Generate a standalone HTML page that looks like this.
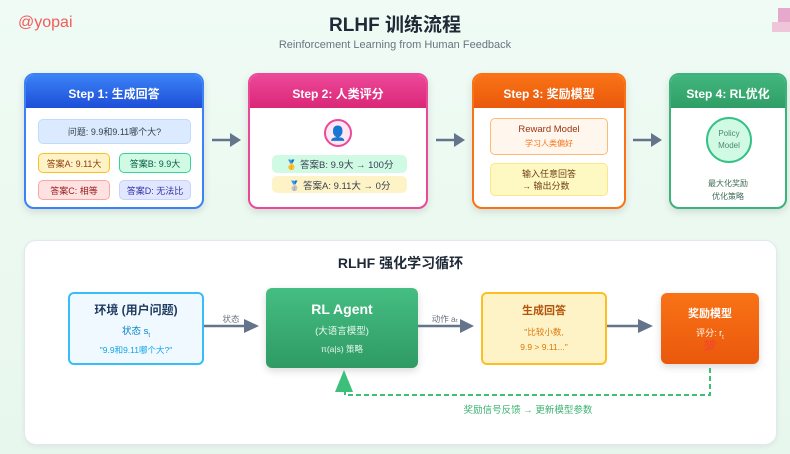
<!DOCTYPE html>
<html><head><meta charset="utf-8"><style>
*{margin:0;padding:0;box-sizing:border-box}
body{width:790px;height:454px;overflow:hidden;background:linear-gradient(180deg,#effbf4,#e8f7ee);font-family:"Liberation Sans","Noto Sans CJK SC",sans-serif;position:relative}
.a{position:absolute}
.c{display:flex;align-items:center;justify-content:center;text-align:center}
.card{position:absolute;background:#fff;border-radius:10px;border:2px solid;overflow:hidden;box-shadow:0 3px 8px rgba(0,0,0,.12)}
.hd{height:33px;color:#fff;font-weight:bold;font-size:12px;display:flex;align-items:center;justify-content:center;padding-top:4px}
.pill{position:absolute;border-radius:5px;border:1px solid;font-size:9px;display:flex;align-items:center;justify-content:center}
</style></head><body>
<div class="a" style="left:18px;top:14px;color:#f25a5a;font-size:16px">@yopai</div>
<div class="a" style="left:0;width:790px;top:10px;text-align:center;font-size:19px;font-weight:bold;color:#1f2937">RLHF 训练流程</div>
<div class="a" style="left:0;width:790px;top:39px;text-align:center;font-size:11px;color:#6b7280">Reinforcement Learning from Human Feedback</div>
<div class="a" style="left:778px;top:8px;width:12px;height:16px;background:#e7a9cb"></div>
<div class="a" style="left:772px;top:22px;width:18px;height:10px;background:#efc5da"></div>

<div class="card" style="left:24px;top:73px;width:180px;height:136px;border-color:#3b82f6">
<div class="hd" style="background:linear-gradient(#3b82f6,#1d4ed8)">Step 1: 生成回答</div>
<div class="pill" style="left:12px;top:44px;width:153px;height:25px;background:#dbeafe;border-color:#bfdbfe;color:#374151">问题: 9.9和9.11哪个大?</div>
<div class="pill" style="left:12px;top:78px;width:72px;height:20px;background:#fef3c7;border-color:#fbbf24;color:#92400e">答案A: 9.11大</div>
<div class="pill" style="left:93px;top:78px;width:72px;height:20px;background:#d1fae5;border-color:#34d399;color:#065f46">答案B: 9.9大</div>
<div class="pill" style="left:12px;top:105px;width:72px;height:20px;background:#fee2e2;border-color:#fca5a5;color:#991b1b">答案C: 相等</div>
<div class="pill" style="left:93px;top:105px;width:72px;height:20px;background:#e0e7ff;border-color:#c7d2fe;color:#3730a3">答案D: 无法比</div>
</div>

<div class="card" style="left:248px;top:73px;width:180px;height:136px;border-color:#ec4899">
<div class="hd" style="background:linear-gradient(#ec4899,#db2777)">Step 2: 人类评分</div>
<div class="a c" style="left:74px;top:44px;width:28px;height:28px;border-radius:50%;background:#fce7f3;border:2px solid #ec4899;font-size:14px">👤</div>
<div class="pill" style="left:22px;top:80px;width:135px;height:18px;background:#d1fae5;border:none;color:#374151;font-size:9.5px">🥇 答案B: 9.9大 → 100分</div>
<div class="pill" style="left:22px;top:101px;width:135px;height:17px;background:#fef3c7;border:none;color:#374151;font-size:9.5px">🥈 答案A: 9.11大 → 0分</div>
</div>

<div class="card" style="left:472px;top:73px;width:154px;height:136px;border-color:#f97316">
<div class="hd" style="background:linear-gradient(#f97316,#ea580c)">Step 3: 奖励模型</div>
<div class="pill" style="left:16px;top:43px;width:118px;height:37px;background:#fff7ed;border-color:#fdba74;flex-direction:column;color:#9a3412;font-size:9.5px">Reward Model<span style="color:#f97316;font-size:8px;margin-top:3px">学习人类偏好</span></div>
<div class="pill" style="left:16px;top:88px;width:118px;height:33px;background:#fef9c3;border-color:#fde68a;flex-direction:column;color:#713f12;font-size:9px;line-height:12px">输入任意回答<br>→ 输出分数</div>
</div>

<div class="card" style="left:669px;top:73px;width:118px;height:136px;border-color:#3cb37a">
<div class="hd" style="background:linear-gradient(#41b67e,#2f9e66)">Step 4: RL优化</div>
<div class="a c" style="left:35px;top:42px;width:46px;height:46px;border-radius:50%;background:#d1fae5;border:2px solid #34c185;color:#4b8a6b;font-size:8px;line-height:12px">Policy<br>Model</div>
<div class="a" style="left:0;width:114px;top:102px;text-align:center;font-size:8px;line-height:13px;color:#3d6b55">最大化奖励<br>优化策略</div>
</div>

<svg class="a" style="left:0;top:0" width="790" height="454">
<g stroke="#64748b" stroke-width="2.5">
<line x1="212" y1="140" x2="232" y2="140"/><path d="M230,133 L241,140 L230,147z" fill="#64748b" stroke="none"/>
<line x1="436" y1="140" x2="456" y2="140"/><path d="M454,133 L465,140 L454,147z" fill="#64748b" stroke="none"/>
<line x1="633" y1="140" x2="653" y2="140"/><path d="M651,133 L662,140 L651,147z" fill="#64748b" stroke="none"/>
</g>
</svg>

<div class="a" style="left:24px;top:240px;width:753px;height:205px;background:#fff;border:1px solid #e2e8f0;border-radius:12px;box-shadow:0 2px 6px rgba(0,0,0,.06)"></div>
<div class="a" style="left:24px;width:753px;top:253px;text-align:center;font-size:14px;font-weight:bold;color:#1f2937">RLHF 强化学习循环</div>

<div class="a c" style="left:68px;top:292px;width:136px;height:73px;border:2px solid #38bdf8;border-radius:6px;background:#f0f9ff;flex-direction:column">
<div style="font-size:12px;font-weight:bold;color:#1e3a5f">环境 (用户问题)</div>
<div style="font-size:9.5px;color:#0284c7;margin-top:5px">状态 s<sub style="font-size:6px">t</sub></div>
<div style="font-size:8.5px;color:#0ea5e9;margin-top:6px">"9.9和9.11哪个大?"</div></div>

<div class="a c" style="left:266px;top:288px;width:152px;height:80px;border-radius:6px;background:linear-gradient(#45be82,#2f9a64);flex-direction:column;box-shadow:0 3px 8px rgba(0,0,0,.15);color:#fff">
<div style="font-size:14px;font-weight:bold">RL Agent</div>
<div style="font-size:9.5px;margin-top:6px;color:#e6f7ee">(大语言模型)</div>
<div style="font-size:8.5px;margin-top:6px;color:#e6f7ee">π(a|s) 策略</div></div>

<div class="a c" style="left:481px;top:292px;width:126px;height:73px;border:2px solid #fbbf24;border-radius:6px;background:#fef3c7;flex-direction:column">
<div style="font-size:11px;font-weight:bold;color:#b45309">生成回答</div>
<div style="font-size:8.5px;color:#d97706;margin-top:7px;line-height:15px">"比较小数,<br>9.9 &gt; 9.11..."</div></div>

<div class="a c" style="left:661px;top:293px;width:98px;height:71px;border-radius:6px;background:linear-gradient(#f97316,#ea580c);flex-direction:column;box-shadow:0 3px 8px rgba(0,0,0,.15);color:#fff">
<div style="font-size:11px;font-weight:bold">奖励模型</div>
<div style="font-size:9px;margin-top:5px">评分: r<sub style="font-size:6px">t</sub></div>
<div style="font-size:10px;color:#b91c1c">💯</div></div>

<svg class="a" style="left:0;top:0" width="790" height="454">
<g stroke="#64748b" stroke-width="2.5">
<line x1="204" y1="326" x2="246" y2="326"/><path d="M244,319 L259,326 L244,333z" fill="#64748b" stroke="none"/>
<line x1="418" y1="326" x2="462" y2="326"/><path d="M460,319 L474,326 L460,333z" fill="#64748b" stroke="none"/>
<line x1="607" y1="326" x2="640" y2="326"/><path d="M638,319 L653,326 L638,333z" fill="#64748b" stroke="none"/>
</g>
<path d="M710,368 L710,395 L345,395 L345,385" fill="none" stroke="#3cbf7a" stroke-width="2" stroke-dasharray="5,3"/>
<path d="M335,392 L344,370 L353,392z" fill="#3cbf7a"/>
<text x="231" y="322" font-size="8.5" fill="#6b7280" text-anchor="middle" font-family="Liberation Sans,Noto Sans CJK SC,sans-serif">状态</text>
<text x="445" y="322" font-size="8.5" fill="#6b7280" text-anchor="middle" font-family="Liberation Sans,Noto Sans CJK SC,sans-serif">动作 aₜ</text>
<text x="528" y="413" font-size="9.5" fill="#3cb371" text-anchor="middle" font-family="Liberation Sans,Noto Sans CJK SC,sans-serif">奖励信号反馈 → 更新模型参数</text>
</svg>
</body></html>
